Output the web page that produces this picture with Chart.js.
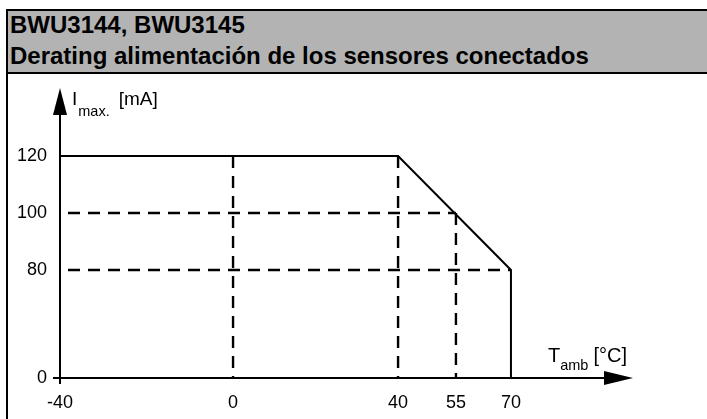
<!DOCTYPE html>
<html><head><meta charset="utf-8">
<script src="https://cdn.jsdelivr.net/npm/chart.js@4"></script>
<style>
html,body{margin:0;padding:0;background:#fff;width:707px;height:419px;overflow:hidden;font-family:"Liberation Sans",Arial,sans-serif}
#frame{position:absolute;left:6px;top:9px;width:760px;height:460px;border-top:2px solid #000;border-left:2px solid #000;}
#head{position:absolute;left:0;top:0;width:100%;height:61px;background:#b3b3b3;border-bottom:2px solid #000;}
.t{position:absolute;left:2px;font-weight:bold;font-size:24px;line-height:24px;white-space:nowrap;color:#000}
#c{position:absolute;left:0;top:0;z-index:2}
</style></head>
<body>
<div id="frame"><div id="head">
<div class="t" style="top:2px">BWU3144, BWU3145</div>
<div class="t" style="top:33px">Derating alimentación de los sensores conectados</div>
</div></div>
<canvas id="c" width="707" height="419"></canvas>
<script>
// ---- data ----
const temps = [-40, 40, 70, 70];          // derating curve, T_amb [°C]
const currents = [120, 120, 80, 0];       // derating curve, I_max [mA]
const guideTemps = [0, 40, 55];           // vertical dashed guides at these temperatures
const guideTempTops = [120, 120, 100];    // ... reaching up to these currents
const guideCurrents = [100, 80];          // horizontal dashed guides at these currents
const guideCurrentEnds = [55, 70];        // ... reaching right to these temperatures
const xTicks = [-40, 0, 40, 55, 70];
const yTicks = [0, 80, 100, 120];

// ---- piecewise (broken) scale, as in the drawing ----
class PiecewiseScale extends Chart.LinearScale {
  _frac(v) {
    const b = this.options.breaks;
    if (v <= b[0][0]) return b[0][1];
    for (let i = 1; i < b.length; i++) {
      if (v <= b[i][0]) {
        const t = (v - b[i-1][0]) / (b[i][0] - b[i-1][0]);
        return b[i-1][1] + t * (b[i][1] - b[i-1][1]);
      }
    }
    return b[b.length-1][1];
  }
  getPixelForValue(v) {
    if (v === null || v === undefined) return NaN;
    return this.getPixelForDecimal(this._frac(v));
  }
  getValueForPixel(p) {
    const d = this.getDecimalForPixel(p), b = this.options.breaks;
    for (let i = 1; i < b.length; i++) {
      if (d <= b[i][1]) {
        const t = (d - b[i-1][1]) / (b[i][1] - b[i-1][1]);
        return b[i-1][0] + t * (b[i][0] - b[i-1][0]);
      }
    }
    return b[b.length-1][0];
  }
}
PiecewiseScale.id = 'piecewise';
PiecewiseScale.defaults = {};
Chart.register(PiecewiseScale);

const FONT = '"Liberation Sans", Arial, sans-serif';
const datasets = [{
  data: temps.map((t, i) => ({x: t, y: currents[i]})),
  borderColor: '#000', borderWidth: 2, clip: false
}];
guideTemps.forEach((t, i) => datasets.push({
  data: [{x: t, y: guideTempTops[i]}, {x: t, y: 0}],
  borderColor: '#000', borderWidth: 2.4, borderDash: [12, 8], clip: false
}));
guideCurrents.forEach((c, i) => datasets.push({
  data: [{x: -40, y: c}, {x: guideCurrentEnds[i], y: c}],
  borderColor: '#000', borderWidth: 2.4, borderDash: [12, 8], borderDashOffset: 12, clip: false
}));

const axisPlugin = {
  id: 'axes',
  afterDatasetsDraw(chart) {
    const {ctx, chartArea: ca, scales: {x, y}} = chart;
    const ox = x.getPixelForValue(xTicks[0]), oy = y.getPixelForValue(yTicks[0]);
    ctx.save();
    ctx.strokeStyle = '#000'; ctx.fillStyle = '#000'; ctx.lineWidth = 2;
    ctx.beginPath();
    ctx.moveTo(ox - 7, oy); ctx.lineTo(ca.right - 26, oy);
    ctx.moveTo(ox, oy + 6); ctx.lineTo(ox, ca.top + 25);
    ctx.stroke();
    ctx.beginPath();
    ctx.moveTo(ca.right, oy); ctx.lineTo(ca.right - 29, oy - 7); ctx.lineTo(ca.right - 29, oy + 7);
    ctx.closePath(); ctx.fill();
    ctx.beginPath();
    ctx.moveTo(ox, ca.top); ctx.lineTo(ox - 7, ca.top + 27); ctx.lineTo(ox + 7, ca.top + 27);
    ctx.closePath(); ctx.fill();
    ctx.textBaseline = 'alphabetic'; ctx.textAlign = 'left';
    // y axis title: I_max. [mA]
    let px = ox + 12, by = ca.top + 17;
    ctx.font = '19px ' + FONT; ctx.fillText('I', px, by); px += ctx.measureText('I').width + 1;
    ctx.font = '14.5px ' + FONT; ctx.fillText('max.', px, by + 11); px += ctx.measureText('max.').width + 9;
    ctx.font = '19px ' + FONT; ctx.fillText('[mA]', px, by);
    // x axis title: T_amb [°C]
    px = ca.right - 85; by = oy - 16;
    ctx.font = '20px ' + FONT; ctx.fillText('T', px, by); px += ctx.measureText('T').width;
    ctx.font = '14.5px ' + FONT; ctx.fillText('amb', px, by + 8); px += ctx.measureText('amb').width + 5;
    ctx.font = '20px ' + FONT; ctx.fillText('[°C]', px, by);
    ctx.restore();
  }
};

new Chart(document.getElementById('c'), {
  type: 'line',
  data: {datasets},
  plugins: [axisPlugin],
  options: {
    responsive: false, animation: false, events: [],
    layout: {padding: {left: 0, top: 88, right: 74, bottom: 0}},
    elements: {point: {radius: 0}, line: {tension: 0, borderCapStyle: 'butt'}},
    plugins: {legend: {display: false}, tooltip: {enabled: false}, title: {display: false}},
    scales: {
      x: {
        type: 'piecewise', position: 'bottom', min: -40, max: 100,
        breaks: [[-40, 0], [0, 0.302], [40, 0.590], [55, 0.691], [70, 0.787], [100, 1]],
        grid: {display: false, drawTicks: false}, border: {display: false},
        afterBuildTicks: s => { s.ticks = xTicks.map(v => ({value: v})); },
        afterFit: s => { s.height = 41; },
        ticks: {color: '#000', font: {family: FONT, size: 18}, padding: 14, maxRotation: 0, autoSkip: false,
                callback: v => String(v)}
      },
      y: {
        type: 'piecewise', position: 'left', min: 0, max: 144,
        breaks: [[0, 0], [80, 0.3724], [100, 0.569], [120, 0.7655], [144, 1]],
        grid: {display: false, drawTicks: false}, border: {display: false},
        afterBuildTicks: s => { s.ticks = yTicks.map(v => ({value: v})); },
        afterFit: s => { s.width = 60; },
        ticks: {color: '#000', font: {family: FONT, size: 18}, padding: 13, autoSkip: false,
                callback: v => String(v)}
      }
    }
  }
});
</script>
</body></html>
